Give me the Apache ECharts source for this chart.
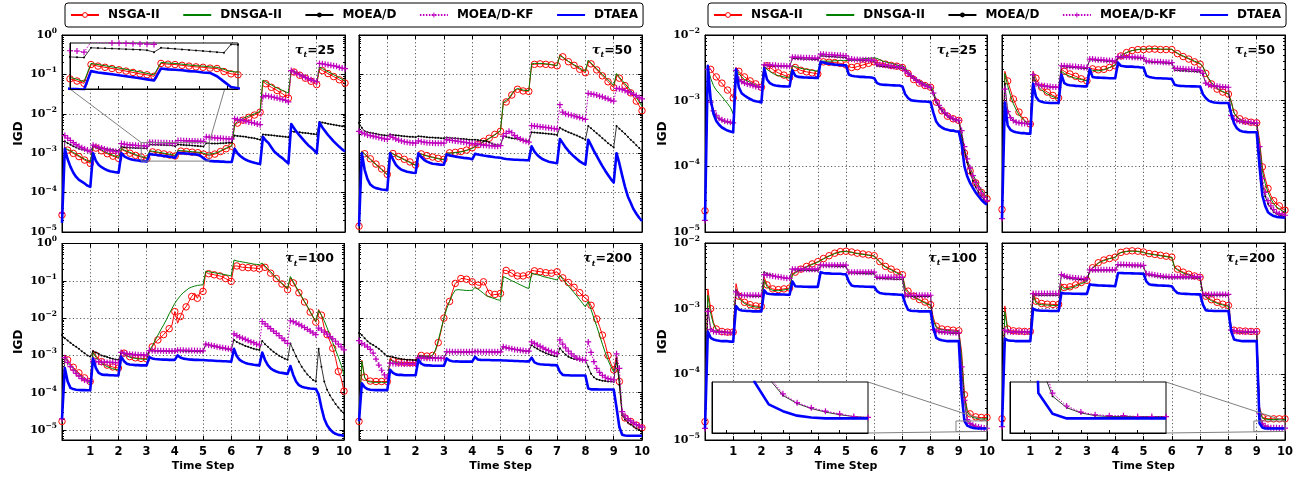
<!DOCTYPE html>
<html><head><meta charset="utf-8">
<script src="https://cdn.jsdelivr.net/npm/echarts@6/dist/echarts.min.js"></script>
<style>html,body{margin:0;padding:0;background:#fff}#c{width:1306px;height:485px}</style>
</head><body><div id="c"></div>
<script>
const timeSteps = [0,0.1,0.2,0.3,0.4,0.5,0.6,0.7,0.8,0.9,1,1.1,1.2,1.3,1.4,1.5,1.6,1.7,1.8,1.9,2,2.1,2.2,2.3,2.4,2.5,2.6,2.7,2.8,2.9,3,3.1,3.2,3.3,3.4,3.5,3.6,3.7,3.8,3.9,4,4.1,4.2,4.3,4.4,4.5,4.6,4.7,4.8,4.9,5,5.1,5.2,5.3,5.4,5.5,5.6,5.7,5.8,5.9,6,6.1,6.2,6.3,6.4,6.5,6.6,6.7,6.8,6.9,7,7.1,7.2,7.3,7.4,7.5,7.6,7.7,7.8,7.9,8,8.1,8.2,8.3,8.4,8.5,8.6,8.7,8.8,8.9,9,9.1,9.2,9.3,9.4,9.5,9.6,9.7,9.8,9.9,10];
const methods = ['NSGA-II','DNSGA-II','MOEA/D','MOEA/D-KF','DTAEA'];
const tauLabels = ['25','50','100','200'];
const xTickLabels = ['1','2','3','4','5','6','7','8','9','10'];
const minorMantissas = [2,3,4,5,6,7,8,9];

// ---------- Problem 1, tau=25 ----------
const nsgaA = [2.7e-5,
1.3e-3,1.2e-3,1.1e-3,9.9e-4,9.0e-4,8.2e-4,7.4e-4,6.7e-4,6.1e-4,5.5e-4,
1.5e-3,1.35e-3,1.25e-3,1.15e-3,1.05e-3,9.7e-4,9.0e-4,8.4e-4,7.9e-4,7.4e-4,
1.25e-3,1.15e-3,1.08e-3,1.0e-3,9.4e-4,8.8e-4,8.3e-4,8.0e-4,7.6e-4,7.2e-4,
1.12e-3,1.08e-3,1.05e-3,1.02e-3,9.9e-4,9.6e-4,9.3e-4,9.0e-4,8.8e-4,8.5e-4,
1.15e-3,1.13e-3,1.12e-3,1.1e-3,1.08e-3,1.06e-3,1.05e-3,1.03e-3,1.02e-3,9.5e-4,
9.0e-4,8.8e-4,9.0e-4,9.5e-4,1.0e-3,1.1e-3,1.2e-3,1.3e-3,1.4e-3,1.5e-3,
5.2e-3,5.8e-3,6.3e-3,6.9e-3,7.5e-3,8.1e-3,8.7e-3,9.3e-3,1.0e-2,1.1e-2,
6.6e-2,5.8e-2,5.2e-2,4.7e-2,4.3e-2,3.9e-2,3.5e-2,3.2e-2,2.8e-2,2.5e-2,
1.25e-1,1.15e-1,1.05e-1,9.5e-2,8.7e-2,8.0e-2,7.3e-2,6.7e-2,6.1e-2,5.5e-2,
1.4e-1,1.25e-1,1.15e-1,1.05e-1,9.6e-2,8.8e-2,8.0e-2,7.3e-2,6.6e-2,6.0e-2];
const dnsgaA = [2.5e-5,
1.35e-3,1.25e-3,1.15e-3,1.05e-3,9.5e-4,8.6e-4,7.8e-4,7.1e-4,6.5e-4,6.0e-4,
1.55e-3,1.4e-3,1.3e-3,1.2e-3,1.1e-3,1.02e-3,9.5e-4,8.9e-4,8.3e-4,7.8e-4,
1.3e-3,1.2e-3,1.12e-3,1.05e-3,9.8e-4,9.2e-4,8.7e-4,8.3e-4,7.9e-4,7.5e-4,
1.15e-3,1.12e-3,1.09e-3,1.06e-3,1.03e-3,1.0e-3,9.7e-4,9.4e-4,9.1e-4,8.8e-4,
1.18e-3,1.16e-3,1.15e-3,1.13e-3,1.11e-3,1.09e-3,1.08e-3,1.06e-3,1.05e-3,1.0e-3,
9.5e-4,9.4e-4,9.6e-4,1.0e-3,1.05e-3,1.15e-3,1.25e-3,1.35e-3,1.45e-3,1.55e-3,
5.5e-3,6.3e-3,7.0e-3,7.6e-3,8.2e-3,8.8e-3,9.4e-3,1.0e-2,1.07e-2,1.15e-2,
7.2e-2,6.5e-2,5.9e-2,5.4e-2,4.9e-2,4.5e-2,4.2e-2,3.9e-2,3.6e-2,3.4e-2,
1.3e-1,1.2e-1,1.1e-1,1.0e-1,9.3e-2,8.6e-2,8.0e-2,7.4e-2,6.9e-2,6.4e-2,
1.55e-1,1.4e-1,1.28e-1,1.17e-1,1.07e-1,9.8e-2,9.0e-2,8.2e-2,7.5e-2,6.8e-2];
const moeadA = [3.0e-5,
2.0e-3,1.8e-3,1.65e-3,1.5e-3,1.4e-3,1.3e-3,1.25e-3,1.2e-3,1.15e-3,1.1e-3,
1.5e-3,1.45e-3,1.4e-3,1.35e-3,1.3e-3,1.27e-3,1.24e-3,1.2e-3,1.17e-3,1.15e-3,
1.45e-3,1.42e-3,1.4e-3,1.38e-3,1.37e-3,1.36e-3,1.35e-3,1.34e-3,1.33e-3,1.32e-3,
1.66e-3,1.65e-3,1.64e-3,1.63e-3,1.62e-3,1.61e-3,1.6e-3,1.59e-3,1.57e-3,1.5e-3,
1.66e-3,1.64e-3,1.62e-3,1.6e-3,1.58e-3,1.56e-3,1.54e-3,1.52e-3,1.5e-3,1.48e-3,
1.8e-3,1.78e-3,1.76e-3,1.75e-3,1.76e-3,1.78e-3,1.8e-3,1.82e-3,1.85e-3,1.9e-3,
2.8e-3,2.75e-3,2.7e-3,2.65e-3,2.6e-3,2.5e-3,2.45e-3,2.4e-3,2.3e-3,2.2e-3,
3.0e-3,2.95e-3,2.9e-3,2.85e-3,2.8e-3,2.75e-3,2.7e-3,2.65e-3,2.6e-3,2.55e-3,
3.6e-3,3.5e-3,3.45e-3,3.4e-3,3.3e-3,3.25e-3,3.2e-3,3.1e-3,3.05e-3,3.0e-3,
6.2e-3,6.0e-3,5.8e-3,5.6e-3,5.4e-3,5.3e-3,5.1e-3,5.0e-3,4.8e-3,4.7e-3];
const kfA = [3.0e-5,
2.8e-3,2.4e-3,2.1e-3,1.85e-3,1.65e-3,1.5e-3,1.38e-3,1.28e-3,1.2e-3,1.1e-3,
1.6e-3,1.5e-3,1.42e-3,1.35e-3,1.28e-3,1.22e-3,1.17e-3,1.13e-3,1.1e-3,1.08e-3,
1.75e-3,1.7e-3,1.65e-3,1.62e-3,1.6e-3,1.58e-3,1.56e-3,1.55e-3,1.54e-3,1.5e-3,
1.9e-3,1.88e-3,1.87e-3,1.86e-3,1.85e-3,1.84e-3,1.83e-3,1.82e-3,1.81e-3,1.8e-3,
2.1e-3,2.1e-3,2.08e-3,2.06e-3,2.05e-3,2.04e-3,2.03e-3,2.02e-3,2.01e-3,2.0e-3,
2.6e-3,2.55e-3,2.5e-3,2.45e-3,2.4e-3,2.38e-3,2.35e-3,2.33e-3,2.3e-3,2.3e-3,
7.5e-3,7.2e-3,7.0e-3,6.7e-3,6.5e-3,6.2e-3,6.0e-3,5.8e-3,5.5e-3,5.3e-3,
2.7e-2,2.9e-2,2.8e-2,2.7e-2,2.6e-2,2.5e-2,2.4e-2,2.3e-2,2.2e-2,2.0e-2,
1.25e-1,1.15e-1,1.05e-1,9.8e-2,9.0e-2,8.4e-2,7.8e-2,7.3e-2,6.9e-2,6.5e-2,
1.9e-1,1.85e-1,1.8e-1,1.75e-1,1.7e-1,1.65e-1,1.6e-1,1.5e-1,1.45e-1,1.4e-1];
const dtaeaA = [1.7e-5,
1.3e-3,7.0e-4,4.5e-4,3.2e-4,2.5e-4,2.1e-4,1.9e-4,1.7e-4,1.5e-4,1.4e-4,
1.0e-3,6.3e-4,5.0e-4,4.4e-4,4.0e-4,3.7e-4,3.5e-4,3.4e-4,3.3e-4,3.2e-4,
1.0e-3,8.3e-4,7.6e-4,7.1e-4,6.8e-4,6.6e-4,6.5e-4,6.3e-4,6.3e-4,6.2e-4,
9.6e-4,9.3e-4,9.1e-4,8.9e-4,8.7e-4,8.5e-4,8.3e-4,8.1e-4,7.9e-4,7.7e-4,
1.02e-3,1.0e-3,9.9e-4,9.8e-4,9.6e-4,9.5e-4,9.3e-4,9.2e-4,8.5e-4,7.5e-4,
6.6e-4,6.4e-4,6.3e-4,6.2e-4,6.2e-4,6.1e-4,6.1e-4,6.0e-4,6.0e-4,6.0e-4,
1.3e-3,1.0e-3,8.5e-4,7.5e-4,6.8e-4,6.3e-4,6.0e-4,5.7e-4,5.5e-4,5.3e-4,
2.6e-3,2.1e-3,1.8e-3,1.4e-3,1.1e-3,9.5e-4,8.3e-4,7.4e-4,6.3e-4,5.5e-4,
5.5e-3,4.3e-3,3.4e-3,2.8e-3,2.3e-3,1.9e-3,1.6e-3,1.4e-3,1.2e-3,1.0e-3,
6.0e-3,4.5e-3,3.6e-3,2.9e-3,2.4e-3,2.0e-3,1.7e-3,1.45e-3,1.25e-3,1.1e-3];

// ---------- Problem 1, tau=50 ----------
const nsgaB = [1.4e-5,
1.12e-3,9.7e-4,8.3e-4,7.2e-4,6.2e-4,5.3e-4,4.6e-4,4.0e-4,3.4e-4,2.9e-4,
1.07e-3,9.8e-4,8.9e-4,8.2e-4,7.6e-4,7.0e-4,6.5e-4,6.0e-4,5.5e-4,5.0e-4,
1.02e-3,9.6e-4,9.1e-4,8.7e-4,8.3e-4,8.0e-4,7.7e-4,7.4e-4,7.2e-4,7.0e-4,
1.02e-3,1.02e-3,1.03e-3,1.05e-3,1.07e-3,1.1e-3,1.15e-3,1.2e-3,1.28e-3,1.37e-3,
1.5e-3,1.65e-3,1.8e-3,2.0e-3,2.2e-3,2.4e-3,2.7e-3,3.0e-3,3.4e-3,3.6e-3,
1.9e-2,2.0e-2,2.3e-2,3.0e-2,3.8e-2,4.2e-2,4.0e-2,3.8e-2,3.8e-2,3.7e-2,
1.75e-1,1.8e-1,1.85e-1,1.85e-1,1.85e-1,1.8e-1,1.8e-1,1.75e-1,1.7e-1,1.65e-1,
3.2e-1,2.8e-1,2.4e-1,2.1e-1,1.9e-1,1.7e-1,1.5e-1,1.35e-1,1.2e-1,1.1e-1,
2.2e-1,1.85e-1,1.55e-1,1.3e-1,1.1e-1,9.2e-2,7.8e-2,6.5e-2,5.5e-2,4.6e-2,
1.0e-1,8.0e-2,6.4e-2,5.2e-2,4.2e-2,3.4e-2,2.7e-2,2.1e-2,1.6e-2,1.2e-2];
const dnsgaB = [1.4e-5,
1.1e-3,9.4e-4,8.0e-4,6.9e-4,5.9e-4,5.1e-4,4.4e-4,3.8e-4,3.3e-4,2.8e-4,
1.05e-3,9.5e-4,8.7e-4,8.0e-4,7.4e-4,6.8e-4,6.3e-4,5.8e-4,5.3e-4,4.9e-4,
1.0e-3,9.4e-4,8.9e-4,8.5e-4,8.1e-4,7.8e-4,7.5e-4,7.2e-4,7.0e-4,6.8e-4,
1.0e-3,1.0e-3,1.01e-3,1.03e-3,1.05e-3,1.08e-3,1.12e-3,1.17e-3,1.24e-3,1.32e-3,
1.45e-3,1.6e-3,1.75e-3,1.95e-3,2.15e-3,2.35e-3,2.6e-3,2.9e-3,3.3e-3,3.8e-3,
2.0e-2,2.2e-2,2.5e-2,3.2e-2,4.0e-2,4.4e-2,4.2e-2,4.0e-2,3.9e-2,3.9e-2,
1.85e-1,1.9e-1,1.9e-1,1.9e-1,1.88e-1,1.85e-1,1.82e-1,1.78e-1,1.72e-1,1.68e-1,
3.0e-1,2.7e-1,2.4e-1,2.15e-1,1.95e-1,1.75e-1,1.6e-1,1.45e-1,1.3e-1,1.2e-1,
2.3e-1,1.95e-1,1.65e-1,1.4e-1,1.2e-1,1.0e-1,8.6e-2,7.3e-2,6.2e-2,5.3e-2,
1.05e-1,8.5e-2,7.0e-2,5.8e-2,4.8e-2,3.9e-2,3.2e-2,2.6e-2,2.0e-2,1.55e-2];
const moeadB = [5.9e-3,
4.4e-3,3.6e-3,3.4e-3,3.3e-3,3.2e-3,3.1e-3,3.0e-3,2.9e-3,2.85e-3,2.8e-3,
3.0e-3,2.9e-3,2.85e-3,2.8e-3,2.75e-3,2.7e-3,2.65e-3,2.6e-3,2.6e-3,2.55e-3,
2.7e-3,2.65e-3,2.6e-3,2.55e-3,2.5e-3,2.5e-3,2.45e-3,2.45e-3,2.4e-3,2.4e-3,
2.5e-3,2.45e-3,2.4e-3,2.4e-3,2.35e-3,2.3e-3,2.3e-3,2.25e-3,2.2e-3,2.2e-3,
2.2e-3,2.15e-3,2.1e-3,2.05e-3,2.0e-3,1.9e-3,1.75e-3,1.65e-3,1.6e-3,1.6e-3,
2.7e-3,2.6e-3,2.5e-3,2.4e-3,2.35e-3,2.3e-3,2.2e-3,2.15e-3,2.1e-3,2.0e-3,
3.4e-3,3.35e-3,3.3e-3,3.25e-3,3.2e-3,3.15e-3,3.1e-3,3.05e-3,3.0e-3,2.9e-3,
4.4e-3,4.0e-3,3.7e-3,3.4e-3,3.2e-3,3.0e-3,2.8e-3,2.6e-3,2.4e-3,2.2e-3,
4.9e-3,4.3e-3,3.7e-3,3.2e-3,2.8e-3,2.4e-3,2.1e-3,1.8e-3,1.6e-3,1.4e-3,
4.9e-3,4.2e-3,3.6e-3,3.1e-3,2.6e-3,2.2e-3,1.9e-3,1.6e-3,1.35e-3,1.15e-3];
const kfB = [3.6e-3,
3.3e-3,3.1e-3,2.9e-3,2.8e-3,2.7e-3,2.6e-3,2.5e-3,2.4e-3,2.3e-3,2.25e-3,
2.7e-3,2.5e-3,2.3e-3,2.15e-3,2.05e-3,1.95e-3,1.9e-3,1.85e-3,1.82e-3,1.8e-3,
2.05e-3,1.95e-3,1.9e-3,1.85e-3,1.85e-3,1.82e-3,1.8e-3,1.8e-3,1.8e-3,1.8e-3,
2.2e-3,2.15e-3,2.1e-3,2.05e-3,2.0e-3,1.95e-3,1.9e-3,1.85e-3,1.8e-3,1.75e-3,
1.75e-3,1.7e-3,1.65e-3,1.6e-3,1.6e-3,1.55e-3,1.55e-3,1.5e-3,1.5e-3,1.55e-3,
2.7e-3,3.2e-3,3.6e-3,3.3e-3,2.8e-3,2.5e-3,2.3e-3,2.1e-3,2.0e-3,1.9e-3,
5.0e-3,4.9e-3,4.8e-3,4.7e-3,4.6e-3,4.5e-3,4.4e-3,4.3e-3,4.2e-3,4.1e-3,
1.7e-2,1.1e-2,1.0e-2,9.6e-3,9.2e-3,8.8e-3,8.4e-3,8.0e-3,7.6e-3,7.2e-3,
3.3e-2,3.2e-2,3.1e-2,3.0e-2,2.8e-2,2.7e-2,2.5e-2,2.4e-2,2.2e-2,2.1e-2,
4.4e-2,4.3e-2,4.1e-2,3.9e-2,3.6e-2,3.4e-2,3.1e-2,2.9e-2,2.6e-2,2.4e-2];
const dtaeaB = [1.4e-5,
1.0e-3,3.8e-4,2.2e-4,1.6e-4,1.4e-4,1.3e-4,1.25e-4,1.2e-4,1.18e-4,1.15e-4,
1.0e-3,7.0e-4,5.1e-4,4.3e-4,3.8e-4,3.6e-4,3.4e-4,3.3e-4,3.2e-4,3.15e-4,
1.0e-3,8.0e-4,6.8e-4,6.1e-4,5.7e-4,5.4e-4,5.3e-4,5.2e-4,5.1e-4,5.1e-4,
9.3e-4,8.8e-4,8.5e-4,8.2e-4,8.0e-4,7.8e-4,7.6e-4,7.5e-4,7.3e-4,7.0e-4,
9.6e-4,9.3e-4,9.0e-4,8.7e-4,8.5e-4,8.3e-4,8.1e-4,7.9e-4,7.8e-4,7.7e-4,
7.3e-4,7.1e-4,7.0e-4,6.9e-4,6.8e-4,6.8e-4,6.7e-4,6.7e-4,6.6e-4,6.6e-4,
1.5e-3,1.1e-3,9.0e-4,7.8e-4,7.0e-4,6.5e-4,6.1e-4,5.9e-4,5.7e-4,5.6e-4,
2.3e-3,1.8e-3,1.4e-3,1.15e-3,9.6e-4,8.2e-4,7.1e-4,6.2e-4,5.6e-4,5.1e-4,
2.2e-3,1.6e-3,1.15e-3,8.5e-4,6.3e-4,4.7e-4,3.6e-4,2.8e-4,2.2e-4,1.8e-4,
1.0e-3,5.5e-4,2.7e-4,1.4e-4,8.0e-5,5.5e-5,3.8e-5,2.9e-5,2.3e-5,1.9e-5];

// ---------- Problem 1, tau=100 ----------
const nsgaC = [1.7e-5,
1.0e-3,7.6e-4,6.0e-4,4.8e-4,4.0e-4,3.4e-4,2.9e-4,2.5e-4,2.2e-4,2.0e-4,
1.4e-3,1.0e-3,8.0e-4,6.8e-4,6.0e-4,5.5e-4,5.1e-4,4.9e-4,4.7e-4,4.6e-4,
1.4e-3,1.15e-3,1.0e-3,9.3e-4,8.9e-4,8.6e-4,8.4e-4,8.3e-4,8.2e-4,8.1e-4,
1.3e-3,1.7e-3,2.2e-3,2.6e-3,3.0e-3,3.6e-3,4.3e-3,5.2e-3,6.5e-3,1.5e-2,
7.3e-3,1.1e-2,1.7e-2,2.0e-2,2.8e-2,3.8e-2,4.7e-2,3.4e-2,5.0e-2,5.2e-2,
1.7e-1,1.55e-1,1.5e-1,1.45e-1,1.4e-1,1.35e-1,1.25e-1,1.15e-1,1.05e-1,9.6e-2,
2.5e-1,2.5e-1,2.4e-1,2.3e-1,2.3e-1,2.25e-1,2.2e-1,2.2e-1,2.15e-1,2.1e-1,
2.8e-1,2.3e-1,1.9e-1,1.6e-1,1.35e-1,1.15e-1,9.7e-2,8.2e-2,6.9e-2,5.8e-2,
1.2e-1,8.8e-2,6.5e-2,4.8e-2,3.6e-2,2.7e-2,2.0e-2,1.45e-2,1.05e-2,7.8e-3,
1.7e-2,1.2e-2,5.4e-3,3.6e-3,2.4e-3,1.55e-3,8.4e-4,3.7e-4,2.4e-4,1.1e-4];
const dnsgaC = [1.7e-5,
9.0e-4,6.8e-4,5.4e-4,4.4e-4,3.7e-4,3.1e-4,2.7e-4,2.3e-4,2.0e-4,1.8e-4,
1.2e-3,9.0e-4,7.3e-4,6.2e-4,5.5e-4,5.0e-4,4.7e-4,4.4e-4,4.2e-4,4.1e-4,
1.3e-3,1.08e-3,9.6e-4,9.0e-4,8.6e-4,8.3e-4,8.1e-4,8.0e-4,7.9e-4,7.8e-4,
1.3e-3,1.8e-3,2.5e-3,3.5e-3,4.8e-3,6.5e-3,9.0e-3,1.3e-2,1.8e-2,2.5e-2,
3.2e-2,4.0e-2,4.8e-2,5.5e-2,6.3e-2,6.8e-2,7.2e-2,7.5e-2,7.7e-2,7.8e-2,
1.8e-1,1.75e-1,1.7e-1,1.65e-1,1.6e-1,1.55e-1,1.5e-1,1.45e-1,1.4e-1,1.35e-1,
3.6e-1,3.4e-1,3.3e-1,3.2e-1,3.1e-1,3.0e-1,2.9e-1,2.8e-1,2.75e-1,2.7e-1,
3.0e-1,2.5e-1,2.1e-1,1.75e-1,1.45e-1,1.2e-1,1.0e-1,8.6e-2,7.3e-2,6.3e-2,
1.3e-1,9.5e-2,7.0e-2,5.1e-2,3.8e-2,2.8e-2,2.1e-2,1.5e-2,1.1e-2,8.1e-3,
1.6e-2,1.2e-2,8.5e-3,5.5e-3,3.5e-3,2.2e-3,1.4e-3,9.0e-4,5.5e-4,3.0e-4];
const moeadC = [3.5e-3,
2.9e-3,2.5e-3,2.2e-3,1.9e-3,1.7e-3,1.5e-3,1.3e-3,1.15e-3,1.0e-3,9.3e-4,
1.3e-3,1.2e-3,1.1e-3,1.0e-3,9.5e-4,9.0e-4,8.5e-4,8.1e-4,7.8e-4,7.6e-4,
1.15e-3,1.12e-3,1.1e-3,1.08e-3,1.06e-3,1.05e-3,1.04e-3,1.03e-3,1.02e-3,1.0e-3,
1.35e-3,1.33e-3,1.32e-3,1.31e-3,1.3e-3,1.3e-3,1.29e-3,1.28e-3,1.28e-3,1.27e-3,
1.35e-3,1.33e-3,1.32e-3,1.31e-3,1.3e-3,1.3e-3,1.29e-3,1.28e-3,1.28e-3,1.27e-3,
2.0e-3,1.9e-3,1.8e-3,1.75e-3,1.7e-3,1.6e-3,1.55e-3,1.5e-3,1.45e-3,1.4e-3,
2.6e-3,2.3e-3,2.1e-3,1.95e-3,1.8e-3,1.7e-3,1.6e-3,1.5e-3,1.45e-3,1.4e-3,
2.45e-3,2.0e-3,1.7e-3,1.45e-3,1.25e-3,1.1e-3,9.8e-4,8.9e-4,8.2e-4,7.6e-4,
2.1e-3,1.4e-3,9.5e-4,6.8e-4,5.0e-4,3.9e-4,3.1e-4,2.6e-4,2.2e-4,2.0e-4,
1.5e-3,5.0e-4,2.0e-4,1.2e-4,8.5e-5,6.5e-5,5.0e-5,4.0e-5,3.3e-5,2.8e-5];
const kfC = [2.0e-5,
8.7e-4,6.5e-4,5.0e-4,4.0e-4,3.3e-4,2.8e-4,2.4e-4,2.2e-4,2.1e-4,2.0e-4,
6.9e-4,6.8e-4,6.7e-4,6.6e-4,6.6e-4,6.5e-4,6.5e-4,6.5e-4,6.4e-4,6.4e-4,
1.2e-3,1.15e-3,1.1e-3,1.08e-3,1.06e-3,1.05e-3,1.04e-3,1.03e-3,1.02e-3,1.0e-3,
1.35e-3,1.35e-3,1.34e-3,1.34e-3,1.33e-3,1.33e-3,1.32e-3,1.32e-3,1.31e-3,1.31e-3,
1.38e-3,1.37e-3,1.37e-3,1.36e-3,1.36e-3,1.35e-3,1.35e-3,1.34e-3,1.34e-3,1.33e-3,
2.0e-3,1.9e-3,1.85e-3,1.8e-3,1.7e-3,1.65e-3,1.6e-3,1.55e-3,1.5e-3,1.45e-3,
3.8e-3,3.4e-3,3.1e-3,2.9e-3,2.7e-3,2.5e-3,2.3e-3,2.2e-3,2.0e-3,1.9e-3,
8.1e-3,7.0e-3,6.0e-3,5.2e-3,4.5e-3,3.9e-3,3.4e-3,2.9e-3,2.5e-3,2.1e-3,
8.5e-3,8.0e-3,7.4e-3,6.8e-3,6.2e-3,5.6e-3,5.0e-3,4.5e-3,4.0e-3,3.6e-3,
5.4e-3,4.8e-3,4.2e-3,3.7e-3,3.2e-3,2.8e-3,2.4e-3,2.0e-3,1.7e-3,1.4e-3];
const dtaeaC = [2.0e-5,
4.6e-4,2.0e-4,1.35e-4,1.25e-4,1.2e-4,1.18e-4,1.17e-4,1.17e-4,1.16e-4,1.16e-4,
8.3e-4,4.6e-4,3.4e-4,3.1e-4,3.0e-4,3.0e-4,2.95e-4,2.95e-4,2.9e-4,2.9e-4,
9.3e-4,7.0e-4,6.0e-4,5.7e-4,5.6e-4,5.5e-4,5.5e-4,5.4e-4,5.4e-4,5.4e-4,
9.0e-4,8.3e-4,8.0e-4,7.9e-4,7.8e-4,7.7e-4,7.7e-4,7.6e-4,7.6e-4,7.6e-4,
1.0e-3,8.8e-4,8.2e-4,8.0e-4,7.8e-4,7.7e-4,7.6e-4,7.6e-4,7.5e-4,7.5e-4,
7.4e-4,7.3e-4,7.3e-4,7.2e-4,7.1e-4,7.1e-4,7.0e-4,7.0e-4,6.9e-4,6.8e-4,
1.5e-3,9.5e-4,7.6e-4,6.8e-4,6.3e-4,6.0e-4,5.8e-4,5.6e-4,5.5e-4,5.4e-4,
1.2e-3,7.5e-4,5.5e-4,4.5e-4,4.0e-4,3.7e-4,3.5e-4,3.4e-4,3.3e-4,3.2e-4,
5.2e-4,3.0e-4,2.0e-4,1.6e-4,1.45e-4,1.38e-4,1.33e-4,1.3e-4,1.28e-4,1.26e-4,
9.0e-5,4.0e-5,2.0e-5,1.35e-5,1.05e-5,8.8e-6,7.9e-6,7.4e-6,7.2e-6,7.0e-6];

// ---------- Problem 1, tau=200 ----------
const nsgaD = [1.7e-5,
7.4e-4,2.6e-4,2.1e-4,2.05e-4,2.0e-4,2.0e-4,2.0e-4,2.0e-4,2.0e-4,2.0e-4,
8.3e-4,7.2e-4,6.8e-4,6.6e-4,6.5e-4,6.5e-4,6.5e-4,6.4e-4,6.4e-4,6.4e-4,
1.02e-3,1.0e-3,9.8e-4,9.6e-4,9.6e-4,1.0e-3,1.3e-3,2.2e-3,4.5e-3,1.0e-2,
2.2e-2,2.8e-2,5.1e-2,8.5e-2,9.4e-2,1.15e-1,1.15e-1,1.1e-1,1.05e-1,9.4e-2,
8.5e-2,7.6e-2,7.6e-2,9.4e-2,6.9e-2,4.6e-2,4.1e-2,4.3e-2,4.3e-2,4.6e-2,
1.9e-1,1.9e-1,1.75e-1,1.6e-1,1.4e-1,1.35e-1,1.3e-1,1.35e-1,1.4e-1,1.45e-1,
1.9e-1,1.85e-1,1.8e-1,1.75e-1,1.7e-1,1.65e-1,1.6e-1,1.6e-1,1.65e-1,1.75e-1,
1.4e-1,1.2e-1,1.05e-1,9.0e-2,7.8e-2,6.7e-2,5.7e-2,4.8e-2,4.0e-2,3.4e-2,
3.0e-2,2.2e-2,1.5e-2,9.5e-3,6.0e-3,3.5e-3,2.0e-3,1.0e-3,6.0e-4,4.1e-4,
1.0e-3,2.0e-4,2.5e-5,2.1e-5,1.9e-5,1.7e-5,1.5e-5,1.35e-5,1.25e-5,1.15e-5];
const dnsgaD = [1.7e-5,
7.0e-4,2.5e-4,2.0e-4,1.95e-4,1.9e-4,1.9e-4,1.9e-4,1.9e-4,1.9e-4,1.9e-4,
7.8e-4,6.8e-4,6.4e-4,6.2e-4,6.1e-4,6.1e-4,6.0e-4,6.0e-4,6.0e-4,6.0e-4,
1.0e-3,9.8e-4,9.6e-4,9.5e-4,9.5e-4,1.0e-3,1.4e-3,2.5e-3,5.0e-3,1.0e-2,
1.8e-2,2.8e-2,4.2e-2,5.6e-2,5.8e-2,5.7e-2,5.6e-2,5.5e-2,5.5e-2,5.6e-2,
6.6e-2,6.0e-2,5.3e-2,4.6e-2,4.0e-2,3.7e-2,3.5e-2,3.3e-2,3.1e-2,3.0e-2,
1.3e-1,1.2e-1,1.1e-1,1.0e-1,9.3e-2,8.5e-2,7.8e-2,7.2e-2,6.6e-2,6.2e-2,
1.6e-1,1.5e-1,1.45e-1,1.4e-1,1.3e-1,1.25e-1,1.2e-1,1.15e-1,1.1e-1,1.05e-1,
1.4e-1,1.1e-1,9.0e-2,7.3e-2,5.9e-2,4.8e-2,3.9e-2,3.1e-2,2.5e-2,2.0e-2,
2.8e-2,1.7e-2,1.0e-2,6.0e-3,3.5e-3,2.0e-3,1.2e-3,7.5e-4,5.0e-4,3.6e-4,
6.8e-4,2.5e-4,2.8e-5,2.2e-5,1.9e-5,1.7e-5,1.5e-5,1.35e-5,1.25e-5,1.1e-5];
const moeadD = [4.0e-3,
3.5e-3,2.9e-3,2.4e-3,2.1e-3,1.9e-3,1.7e-3,1.5e-3,1.3e-3,1.1e-3,9.5e-4,
9.3e-4,9.0e-4,8.6e-4,8.3e-4,8.0e-4,7.8e-4,7.7e-4,7.6e-4,7.5e-4,7.4e-4,
9.3e-4,9.1e-4,9.0e-4,8.9e-4,8.8e-4,8.7e-4,8.6e-4,8.5e-4,8.4e-4,8.3e-4,
1.26e-3,1.25e-3,1.25e-3,1.24e-3,1.24e-3,1.23e-3,1.23e-3,1.22e-3,1.22e-3,1.21e-3,
1.3e-3,1.28e-3,1.27e-3,1.26e-3,1.26e-3,1.25e-3,1.25e-3,1.24e-3,1.24e-3,1.23e-3,
1.7e-3,1.6e-3,1.55e-3,1.5e-3,1.45e-3,1.4e-3,1.35e-3,1.32e-3,1.3e-3,1.28e-3,
1.9e-3,1.65e-3,1.5e-3,1.35e-3,1.25e-3,1.15e-3,1.08e-3,1.02e-3,9.7e-4,9.3e-4,
1.55e-3,1.25e-3,1.05e-3,9.2e-4,8.5e-4,8.0e-4,7.8e-4,7.6e-4,7.5e-4,7.4e-4,
5.0e-4,3.2e-4,2.6e-4,2.3e-4,2.2e-4,2.1e-4,2.05e-4,2.0e-4,2.0e-4,1.95e-4,
8.3e-4,1.6e-4,2.5e-5,1.9e-5,1.6e-5,1.4e-5,1.25e-5,1.1e-5,1.0e-5,9.1e-6];
const kfD = [2.5e-3,
2.1e-3,1.9e-3,1.7e-3,1.45e-3,1.15e-3,8.0e-4,5.5e-4,4.0e-4,3.0e-4,2.5e-4,
6.2e-4,6.1e-4,6.0e-4,6.0e-4,6.0e-4,5.9e-4,5.9e-4,5.9e-4,5.9e-4,5.9e-4,
8.7e-4,8.6e-4,8.5e-4,8.4e-4,8.4e-4,8.4e-4,8.3e-4,8.3e-4,8.3e-4,8.3e-4,
1.27e-3,1.27e-3,1.26e-3,1.26e-3,1.26e-3,1.26e-3,1.25e-3,1.25e-3,1.25e-3,1.25e-3,
1.27e-3,1.27e-3,1.26e-3,1.26e-3,1.26e-3,1.26e-3,1.25e-3,1.25e-3,1.25e-3,1.25e-3,
1.7e-3,1.62e-3,1.55e-3,1.5e-3,1.45e-3,1.42e-3,1.38e-3,1.35e-3,1.32e-3,1.3e-3,
2.3e-3,2.1e-3,1.9e-3,1.75e-3,1.6e-3,1.45e-3,1.35e-3,1.25e-3,1.18e-3,1.12e-3,
2.6e-3,2.0e-3,1.6e-3,1.3e-3,1.1e-3,9.5e-4,8.5e-4,8.0e-4,7.6e-4,7.4e-4,
2.3e-3,1.2e-3,6.8e-4,4.5e-4,3.5e-4,2.9e-4,2.6e-4,2.4e-4,2.3e-4,2.2e-4,
1.1e-3,4.5e-4,3.1e-5,2.4e-5,2.0e-5,1.75e-5,1.55e-5,1.4e-5,1.3e-5,1.2e-5];
const dtaeaD = [1.7e-5,
1.8e-4,1.4e-4,1.25e-4,1.2e-4,1.18e-4,1.17e-4,1.17e-4,1.17e-4,1.17e-4,1.17e-4,
4.1e-4,3.4e-4,3.1e-4,3.0e-4,3.0e-4,2.95e-4,2.95e-4,2.95e-4,2.95e-4,2.95e-4,
7.6e-4,6.0e-4,5.5e-4,5.4e-4,5.4e-4,5.3e-4,5.3e-4,5.3e-4,5.3e-4,5.3e-4,
8.3e-4,7.3e-4,7.0e-4,6.9e-4,6.9e-4,6.8e-4,6.8e-4,6.8e-4,6.8e-4,6.8e-4,
9.1e-4,7.8e-4,7.6e-4,7.5e-4,7.5e-4,7.5e-4,7.4e-4,7.4e-4,7.4e-4,7.4e-4,
7.3e-4,7.3e-4,7.2e-4,7.2e-4,7.1e-4,7.1e-4,7.0e-4,7.0e-4,6.9e-4,6.9e-4,
8.7e-4,6.5e-4,6.0e-4,5.8e-4,5.7e-4,5.6e-4,5.6e-4,5.5e-4,5.5e-4,5.4e-4,
3.6e-4,3.0e-4,2.95e-4,2.95e-4,2.9e-4,2.9e-4,2.9e-4,2.9e-4,2.9e-4,2.9e-4,
1.3e-4,1.23e-4,1.23e-4,1.23e-4,1.22e-4,1.22e-4,1.22e-4,1.22e-4,1.22e-4,1.22e-4,
4.0e-5,1.2e-5,7.5e-6,7.1e-6,7.0e-6,7.0e-6,7.0e-6,7.0e-6,7.0e-6,7.0e-6];

// ---------- Problem 2, tau=25 ----------
const nsgaE = [2.1e-5,
3.4e-3,3.0e-3,2.6e-3,2.3e-3,2.0e-3,1.85e-3,1.6e-3,1.45e-3,1.3e-3,1.1e-3,
3.2e-3,2.8e-3,2.5e-3,2.3e-3,2.15e-3,2.0e-3,1.9e-3,1.8e-3,1.7e-3,1.6e-3,
3.6e-3,3.4e-3,3.2e-3,3.0e-3,2.8e-3,2.65e-3,2.55e-3,2.45e-3,2.35e-3,2.25e-3,
3.4e-3,3.2e-3,3.0e-3,2.9e-3,2.8e-3,2.75e-3,2.7e-3,2.65e-3,2.6e-3,2.55e-3,
3.9e-3,3.9e-3,3.85e-3,3.85e-3,3.8e-3,3.8e-3,3.75e-3,3.7e-3,3.6e-3,3.5e-3,
3.3e-3,3.2e-3,3.2e-3,3.3e-3,3.4e-3,3.5e-3,3.6e-3,3.7e-3,3.8e-3,3.9e-3,
3.8e-3,3.75e-3,3.7e-3,3.6e-3,3.5e-3,3.45e-3,3.4e-3,3.35e-3,3.3e-3,3.2e-3,
3.0e-3,2.6e-3,2.3e-3,2.1e-3,1.95e-3,1.85e-3,1.75e-3,1.7e-3,1.65e-3,1.6e-3,
1.3e-3,9.5e-4,8.0e-4,7.0e-4,6.3e-4,5.8e-4,5.5e-4,5.3e-4,5.1e-4,5.0e-4,
2.8e-4,1.6e-4,1.1e-4,8.5e-5,6.8e-5,5.6e-5,4.7e-5,4.0e-5,3.5e-5,3.2e-5];
const dnsgaE = [2.1e-5,
3.2e-3,2.2e-3,1.7e-3,1.45e-3,1.3e-3,1.15e-3,1.02e-3,9.0e-4,7.9e-4,6.3e-4,
3.1e-3,2.6e-3,2.3e-3,2.1e-3,2.0e-3,1.9e-3,1.8e-3,1.7e-3,1.65e-3,1.6e-3,
3.4e-3,3.0e-3,2.8e-3,2.6e-3,2.5e-3,2.4e-3,2.35e-3,2.3e-3,2.25e-3,2.2e-3,
3.4e-3,3.3e-3,3.2e-3,3.1e-3,3.05e-3,3.0e-3,2.95e-3,2.9e-3,2.85e-3,2.8e-3,
4.0e-3,4.0e-3,4.0e-3,4.0e-3,4.0e-3,4.05e-3,4.05e-3,4.1e-3,4.1e-3,4.1e-3,
4.1e-3,4.15e-3,4.2e-3,4.25e-3,4.3e-3,4.35e-3,4.4e-3,4.4e-3,4.45e-3,4.5e-3,
4.4e-3,4.2e-3,4.0e-3,3.9e-3,3.8e-3,3.7e-3,3.6e-3,3.5e-3,3.4e-3,3.4e-3,
3.2e-3,2.8e-3,2.5e-3,2.3e-3,2.1e-3,2.0e-3,1.9e-3,1.8e-3,1.75e-3,1.7e-3,
1.4e-3,1.0e-3,8.5e-4,7.4e-4,6.7e-4,6.1e-4,5.7e-4,5.4e-4,5.2e-4,5.1e-4,
3.0e-4,1.8e-4,1.25e-4,9.5e-5,7.5e-5,6.2e-5,5.2e-5,4.4e-5,3.8e-5,3.3e-5];
const moeadE = [1.5e-5,
3.2e-3,9.3e-4,6.9e-4,5.9e-4,5.3e-4,5.0e-4,4.8e-4,4.7e-4,4.6e-4,4.5e-4,
2.9e-3,2.1e-3,1.95e-3,1.85e-3,1.8e-3,1.75e-3,1.7e-3,1.65e-3,1.62e-3,1.6e-3,
3.45e-3,3.45e-3,3.4e-3,3.4e-3,3.4e-3,3.35e-3,3.35e-3,3.35e-3,3.3e-3,3.3e-3,
4.4e-3,4.4e-3,4.35e-3,4.35e-3,4.3e-3,4.3e-3,4.3e-3,4.25e-3,4.25e-3,4.2e-3,
4.8e-3,4.8e-3,4.75e-3,4.7e-3,4.7e-3,4.65e-3,4.6e-3,4.6e-3,4.55e-3,4.5e-3,
4.2e-3,4.2e-3,4.15e-3,4.15e-3,4.1e-3,4.1e-3,4.1e-3,4.05e-3,4.05e-3,4.0e-3,
3.4e-3,3.35e-3,3.3e-3,3.3e-3,3.25e-3,3.25e-3,3.2e-3,3.2e-3,3.15e-3,3.1e-3,
2.9e-3,2.6e-3,2.4e-3,2.2e-3,2.05e-3,1.9e-3,1.8e-3,1.7e-3,1.62e-3,1.55e-3,
1.25e-3,9.5e-4,8.0e-4,7.0e-4,6.3e-4,5.8e-4,5.4e-4,5.2e-4,5.0e-4,4.9e-4,
3.3e-4,1.8e-4,1.15e-4,8.0e-5,6.0e-5,4.8e-5,4.0e-5,3.5e-5,3.1e-5,2.8e-5];
const kfE = [1.5e-5,
3.0e-3,9.5e-4,7.0e-4,6.0e-4,5.4e-4,5.1e-4,4.9e-4,4.8e-4,4.7e-4,4.6e-4,
2.9e-3,2.1e-3,1.95e-3,1.85e-3,1.8e-3,1.75e-3,1.7e-3,1.65e-3,1.62e-3,1.6e-3,
3.5e-3,3.5e-3,3.5e-3,3.45e-3,3.45e-3,3.4e-3,3.4e-3,3.4e-3,3.35e-3,3.35e-3,
4.6e-3,4.6e-3,4.55e-3,4.55e-3,4.5e-3,4.5e-3,4.5e-3,4.45e-3,4.45e-3,4.4e-3,
5.1e-3,5.1e-3,5.05e-3,5.0e-3,5.0e-3,4.95e-3,4.9e-3,4.9e-3,4.85e-3,4.8e-3,
4.3e-3,4.3e-3,4.25e-3,4.25e-3,4.2e-3,4.2e-3,4.2e-3,4.15e-3,4.15e-3,4.1e-3,
3.6e-3,3.55e-3,3.5e-3,3.45e-3,3.4e-3,3.35e-3,3.3e-3,3.3e-3,3.25e-3,3.2e-3,
2.85e-3,2.6e-3,2.4e-3,2.2e-3,2.05e-3,1.9e-3,1.8e-3,1.7e-3,1.65e-3,1.6e-3,
1.3e-3,1.0e-3,8.5e-4,7.3e-4,6.5e-4,6.0e-4,5.6e-4,5.3e-4,5.1e-4,5.0e-4,
3.5e-4,2.0e-4,1.3e-4,9.5e-5,7.2e-5,5.7e-5,4.7e-5,3.9e-5,3.4e-5,3.0e-5];
const dtaeaE = [1.5e-5,
3.4e-3,1.05e-3,6.3e-4,4.9e-4,4.3e-4,3.9e-4,3.7e-4,3.5e-4,3.4e-4,3.3e-4,
3.0e-3,1.6e-3,1.3e-3,1.2e-3,1.12e-3,1.06e-3,1.01e-3,9.8e-4,9.6e-4,9.4e-4,
3.1e-3,2.1e-3,1.85e-3,1.75e-3,1.7e-3,1.68e-3,1.66e-3,1.65e-3,1.64e-3,1.64e-3,
2.9e-3,2.4e-3,2.3e-3,2.28e-3,2.26e-3,2.25e-3,2.24e-3,2.23e-3,2.22e-3,2.22e-3,
3.9e-3,3.8e-3,3.7e-3,3.65e-3,3.6e-3,3.55e-3,3.5e-3,3.5e-3,3.45e-3,3.45e-3,
2.5e-3,2.4e-3,2.35e-3,2.33e-3,2.3e-3,2.3e-3,2.28e-3,2.27e-3,2.25e-3,2.2e-3,
1.85e-3,1.78e-3,1.75e-3,1.74e-3,1.73e-3,1.72e-3,1.71e-3,1.7e-3,1.7e-3,1.65e-3,
1.25e-3,1.1e-3,1.02e-3,1.0e-3,9.9e-4,9.8e-4,9.7e-4,9.7e-4,9.6e-4,9.5e-4,
6.5e-4,4.8e-4,4.2e-4,3.9e-4,3.7e-4,3.6e-4,3.5e-4,3.5e-4,3.4e-4,3.4e-4,
2.2e-4,1.0e-4,7.0e-5,5.6e-5,4.7e-5,4.0e-5,3.5e-5,3.1e-5,2.8e-5,2.6e-5];

// ---------- Problem 2, tau=50 ----------
const nsgaF = [2.2e-5,
2.8e-3,2.0e-3,1.45e-3,1.06e-3,8.4e-4,6.7e-4,5.7e-4,5.0e-4,4.6e-4,4.4e-4,
2.8e-3,2.2e-3,1.8e-3,1.6e-3,1.45e-3,1.35e-3,1.28e-3,1.2e-3,1.15e-3,1.1e-3,
3.0e-3,2.8e-3,2.65e-3,2.55e-3,2.45e-3,2.35e-3,2.25e-3,2.15e-3,2.1e-3,2.0e-3,
3.15e-3,3.05e-3,3.0e-3,2.95e-3,2.95e-3,3.0e-3,3.1e-3,3.2e-3,3.3e-3,3.4e-3,
4.5e-3,4.8e-3,5.1e-3,5.4e-3,5.6e-3,5.8e-3,5.9e-3,6.0e-3,6.0e-3,6.0e-3,
6.0e-3,6.1e-3,6.1e-3,6.1e-3,6.0e-3,6.0e-3,6.0e-3,6.0e-3,6.0e-3,6.0e-3,
5.5e-3,5.2e-3,4.9e-3,4.7e-3,4.5e-3,4.3e-3,4.1e-3,3.9e-3,3.75e-3,3.6e-3,
3.3e-3,2.6e-3,2.1e-3,1.8e-3,1.6e-3,1.5e-3,1.42e-3,1.35e-3,1.3e-3,1.26e-3,
1.0e-3,6.5e-4,5.7e-4,5.3e-4,5.0e-4,4.9e-4,4.8e-4,4.7e-4,4.65e-4,4.6e-4,
2.5e-4,9.8e-5,6.5e-5,4.6e-5,3.6e-5,3.0e-5,2.7e-5,2.5e-5,2.3e-5,2.15e-5];
const dnsgaF = [2.2e-5,
2.6e-3,1.7e-3,1.2e-3,9.0e-4,7.3e-4,6.1e-4,5.4e-4,4.9e-4,4.6e-4,4.4e-4,
2.6e-3,1.9e-3,1.6e-3,1.45e-3,1.35e-3,1.27e-3,1.2e-3,1.15e-3,1.1e-3,1.06e-3,
2.8e-3,2.6e-3,2.45e-3,2.35e-3,2.25e-3,2.2e-3,2.15e-3,2.1e-3,2.05e-3,2.0e-3,
3.0e-3,2.9e-3,2.85e-3,2.85e-3,2.9e-3,2.95e-3,3.05e-3,3.2e-3,3.35e-3,3.5e-3,
4.5e-3,4.8e-3,5.1e-3,5.4e-3,5.6e-3,5.8e-3,5.9e-3,6.0e-3,6.1e-3,6.1e-3,
6.1e-3,6.2e-3,6.2e-3,6.2e-3,6.2e-3,6.1e-3,6.1e-3,6.1e-3,6.1e-3,6.1e-3,
5.6e-3,5.3e-3,5.0e-3,4.8e-3,4.6e-3,4.4e-3,4.2e-3,4.0e-3,3.85e-3,3.7e-3,
3.3e-3,2.6e-3,2.2e-3,1.9e-3,1.7e-3,1.55e-3,1.45e-3,1.38e-3,1.32e-3,1.28e-3,
9.5e-4,6.5e-4,5.6e-4,5.2e-4,4.9e-4,4.8e-4,4.7e-4,4.6e-4,4.55e-4,4.5e-4,
2.2e-4,8.5e-5,5.5e-5,4.0e-5,3.2e-5,2.7e-5,2.4e-5,2.25e-5,2.1e-5,2.0e-5];
const moeadF = [1.6e-5,
1.8e-3,7.0e-4,5.6e-4,5.0e-4,4.7e-4,4.6e-4,4.5e-4,4.5e-4,4.45e-4,4.4e-4,
2.4e-3,1.8e-3,1.72e-3,1.68e-3,1.66e-3,1.64e-3,1.62e-3,1.6e-3,1.6e-3,1.58e-3,
3.3e-3,3.3e-3,3.25e-3,3.25e-3,3.2e-3,3.2e-3,3.15e-3,3.15e-3,3.1e-3,3.1e-3,
4.2e-3,4.2e-3,4.15e-3,4.1e-3,4.1e-3,4.05e-3,4.0e-3,4.0e-3,3.95e-3,3.9e-3,
4.6e-3,4.6e-3,4.6e-3,4.55e-3,4.55e-3,4.5e-3,4.5e-3,4.45e-3,4.45e-3,4.4e-3,
3.9e-3,3.9e-3,3.85e-3,3.85e-3,3.8e-3,3.8e-3,3.75e-3,3.75e-3,3.7e-3,3.7e-3,
2.9e-3,2.9e-3,2.85e-3,2.85e-3,2.85e-3,2.8e-3,2.8e-3,2.8e-3,2.75e-3,2.75e-3,
2.5e-3,1.85e-3,1.75e-3,1.7e-3,1.67e-3,1.65e-3,1.63e-3,1.61e-3,1.6e-3,1.58e-3,
6.0e-4,5.2e-4,4.9e-4,4.8e-4,4.7e-4,4.65e-4,4.6e-4,4.55e-4,4.5e-4,4.5e-4,
1.6e-4,5.5e-5,3.5e-5,2.7e-5,2.3e-5,2.0e-5,1.9e-5,1.8e-5,1.75e-5,1.7e-5];
const kfF = [1.6e-5,
1.5e-3,6.8e-4,5.5e-4,5.0e-4,4.7e-4,4.6e-4,4.5e-4,4.5e-4,4.45e-4,4.4e-4,
2.5e-3,1.8e-3,1.75e-3,1.7e-3,1.68e-3,1.66e-3,1.64e-3,1.62e-3,1.61e-3,1.6e-3,
3.4e-3,3.4e-3,3.35e-3,3.35e-3,3.3e-3,3.3e-3,3.25e-3,3.25e-3,3.2e-3,3.2e-3,
4.3e-3,4.3e-3,4.25e-3,4.2e-3,4.2e-3,4.15e-3,4.1e-3,4.1e-3,4.05e-3,4.0e-3,
4.7e-3,4.7e-3,4.7e-3,4.65e-3,4.65e-3,4.6e-3,4.6e-3,4.55e-3,4.55e-3,4.5e-3,
4.0e-3,4.0e-3,3.95e-3,3.95e-3,3.9e-3,3.9e-3,3.85e-3,3.85e-3,3.8e-3,3.8e-3,
3.1e-3,3.1e-3,3.05e-3,3.05e-3,3.0e-3,3.0e-3,3.0e-3,2.95e-3,2.95e-3,2.9e-3,
2.6e-3,1.85e-3,1.75e-3,1.7e-3,1.68e-3,1.66e-3,1.64e-3,1.62e-3,1.6e-3,1.6e-3,
5.9e-4,5.2e-4,5.0e-4,4.9e-4,4.8e-4,4.75e-4,4.7e-4,4.65e-4,4.6e-4,4.6e-4,
2.0e-4,6.5e-5,4.0e-5,3.0e-5,2.5e-5,2.2e-5,2.0e-5,1.9e-5,1.85e-5,1.8e-5];
const dtaeaF = [1.6e-5,
9.4e-4,4.2e-4,3.6e-4,3.4e-4,3.3e-4,3.25e-4,3.2e-4,3.2e-4,3.15e-4,3.15e-4,
1.8e-3,1.15e-3,1.0e-3,9.6e-4,9.4e-4,9.3e-4,9.2e-4,9.2e-4,9.2e-4,9.2e-4,
2.5e-3,1.85e-3,1.75e-3,1.72e-3,1.7e-3,1.68e-3,1.67e-3,1.66e-3,1.65e-3,1.65e-3,
3.0e-3,2.3e-3,2.25e-3,2.24e-3,2.23e-3,2.22e-3,2.21e-3,2.2e-3,2.2e-3,2.2e-3,
3.8e-3,3.4e-3,3.35e-3,3.3e-3,3.3e-3,3.3e-3,3.25e-3,3.25e-3,3.2e-3,3.2e-3,
2.4e-3,2.3e-3,2.25e-3,2.22e-3,2.2e-3,2.2e-3,2.18e-3,2.17e-3,2.16e-3,2.15e-3,
1.75e-3,1.7e-3,1.68e-3,1.67e-3,1.66e-3,1.66e-3,1.65e-3,1.65e-3,1.64e-3,1.64e-3,
1.25e-3,1.1e-3,1.0e-3,9.6e-4,9.4e-4,9.3e-4,9.2e-4,9.2e-4,9.2e-4,9.2e-4,
6.3e-4,4.5e-4,3.8e-4,3.5e-4,3.4e-4,3.35e-4,3.3e-4,3.3e-4,3.3e-4,3.3e-4,
1.0e-4,3.6e-5,2.5e-5,2.0e-5,1.85e-5,1.75e-5,1.7e-5,1.68e-5,1.66e-5,1.65e-5];

// ---------- Problem 2, tau=100 ----------
const nsgaG = [1.9e-5,
2.0e-3,1.0e-3,6.2e-4,4.9e-4,4.6e-4,4.5e-4,4.45e-4,4.4e-4,4.4e-4,4.4e-4,
2.4e-3,1.55e-3,1.35e-3,1.25e-3,1.2e-3,1.15e-3,1.12e-3,1.1e-3,1.09e-3,1.08e-3,
3.0e-3,2.3e-3,2.1e-3,2.0e-3,1.95e-3,1.95e-3,1.97e-3,2.0e-3,2.03e-3,2.06e-3,
3.4e-3,3.6e-3,3.8e-3,4.0e-3,4.2e-3,4.4e-3,4.6e-3,4.8e-3,5.0e-3,5.2e-3,
5.5e-3,5.8e-3,6.1e-3,6.4e-3,6.7e-3,7.0e-3,7.2e-3,7.4e-3,7.5e-3,7.5e-3,
7.4e-3,7.3e-3,7.1e-3,7.0e-3,6.9e-3,6.8e-3,6.7e-3,6.6e-3,6.5e-3,6.4e-3,
5.8e-3,5.2e-3,4.7e-3,4.4e-3,4.2e-3,4.0e-3,3.8e-3,3.6e-3,3.45e-3,3.3e-3,
2.1e-3,1.85e-3,1.65e-3,1.55e-3,1.45e-3,1.38e-3,1.32e-3,1.26e-3,1.2e-3,1.15e-3,
7.2e-4,5.4e-4,5.0e-4,4.9e-4,4.8e-4,4.8e-4,4.75e-4,4.7e-4,4.7e-4,4.6e-4,
2.2e-4,4.9e-5,2.9e-5,2.5e-5,2.3e-5,2.25e-5,2.2e-5,2.2e-5,2.2e-5,2.2e-5];
const dnsgaG = [1.9e-5,
1.6e-3,8.5e-4,5.8e-4,4.8e-4,4.5e-4,4.4e-4,4.35e-4,4.3e-4,4.3e-4,4.3e-4,
2.0e-3,1.45e-3,1.3e-3,1.2e-3,1.15e-3,1.1e-3,1.08e-3,1.06e-3,1.05e-3,1.04e-3,
2.7e-3,2.15e-3,2.0e-3,1.9e-3,1.88e-3,1.88e-3,1.9e-3,1.93e-3,1.96e-3,2.0e-3,
3.3e-3,3.5e-3,3.7e-3,3.9e-3,4.1e-3,4.3e-3,4.5e-3,4.7e-3,4.9e-3,5.1e-3,
5.4e-3,5.7e-3,6.0e-3,6.3e-3,6.6e-3,6.9e-3,7.1e-3,7.3e-3,7.4e-3,7.4e-3,
7.3e-3,7.2e-3,7.0e-3,6.9e-3,6.8e-3,6.7e-3,6.6e-3,6.5e-3,6.4e-3,6.3e-3,
5.6e-3,5.1e-3,4.6e-3,4.3e-3,4.1e-3,3.9e-3,3.7e-3,3.5e-3,3.35e-3,3.2e-3,
1.95e-3,1.75e-3,1.6e-3,1.5e-3,1.42e-3,1.35e-3,1.28e-3,1.22e-3,1.17e-3,1.12e-3,
6.5e-4,5.2e-4,4.9e-4,4.8e-4,4.7e-4,4.65e-4,4.6e-4,4.55e-4,4.5e-4,4.5e-4,
1.8e-4,4.5e-5,2.7e-5,2.35e-5,2.2e-5,2.15e-5,2.1e-5,2.1e-5,2.1e-5,2.1e-5];
const moeadG = [1.5e-5,
1.0e-3,5.0e-4,4.6e-4,4.5e-4,4.4e-4,4.4e-4,4.35e-4,4.35e-4,4.3e-4,4.3e-4,
1.85e-3,1.65e-3,1.6e-3,1.58e-3,1.57e-3,1.56e-3,1.55e-3,1.55e-3,1.54e-3,1.54e-3,
3.6e-3,3.4e-3,3.3e-3,3.2e-3,3.1e-3,3.05e-3,3.0e-3,2.95e-3,2.9e-3,2.85e-3,
3.9e-3,3.9e-3,3.9e-3,3.85e-3,3.85e-3,3.85e-3,3.8e-3,3.8e-3,3.8e-3,3.8e-3,
4.5e-3,4.5e-3,4.5e-3,4.45e-3,4.45e-3,4.45e-3,4.4e-3,4.4e-3,4.4e-3,4.4e-3,
3.5e-3,3.5e-3,3.5e-3,3.45e-3,3.45e-3,3.45e-3,3.4e-3,3.4e-3,3.4e-3,3.4e-3,
2.9e-3,2.9e-3,2.9e-3,2.85e-3,2.85e-3,2.85e-3,2.8e-3,2.8e-3,2.8e-3,2.8e-3,
1.55e-3,1.55e-3,1.55e-3,1.55e-3,1.54e-3,1.54e-3,1.54e-3,1.53e-3,1.53e-3,1.53e-3,
4.7e-4,4.5e-4,4.4e-4,4.35e-4,4.3e-4,4.3e-4,4.25e-4,4.25e-4,4.2e-4,4.2e-4,
1.2e-4,3.8e-5,2.0e-5,1.77e-5,1.67e-5,1.61e-5,1.57e-5,1.54e-5,1.52e-5,1.51e-5];
const kfG = [1.5e-5,
9.1e-4,4.8e-4,4.5e-4,4.4e-4,4.4e-4,4.35e-4,4.35e-4,4.3e-4,4.3e-4,4.3e-4,
1.8e-3,1.6e-3,1.6e-3,1.6e-3,1.6e-3,1.6e-3,1.6e-3,1.6e-3,1.6e-3,1.6e-3,
3.3e-3,3.25e-3,3.2e-3,3.15e-3,3.1e-3,3.05e-3,3.0e-3,2.95e-3,2.9e-3,2.9e-3,
4.0e-3,4.0e-3,4.0e-3,4.0e-3,4.0e-3,4.0e-3,4.0e-3,4.0e-3,4.0e-3,4.0e-3,
4.6e-3,4.6e-3,4.6e-3,4.6e-3,4.6e-3,4.6e-3,4.6e-3,4.6e-3,4.6e-3,4.6e-3,
3.6e-3,3.6e-3,3.6e-3,3.6e-3,3.6e-3,3.6e-3,3.6e-3,3.6e-3,3.6e-3,3.6e-3,
3.0e-3,3.0e-3,3.0e-3,3.0e-3,3.0e-3,3.0e-3,3.0e-3,3.0e-3,3.0e-3,3.0e-3,
1.6e-3,1.6e-3,1.6e-3,1.6e-3,1.6e-3,1.6e-3,1.6e-3,1.6e-3,1.6e-3,1.6e-3,
4.8e-4,4.6e-4,4.5e-4,4.45e-4,4.4e-4,4.4e-4,4.35e-4,4.35e-4,4.3e-4,4.3e-4,
1.3e-4,4.0e-5,2.04e-5,1.79e-5,1.68e-5,1.62e-5,1.58e-5,1.55e-5,1.52e-5,1.51e-5];
const dtaeaG = [1.5e-5,
4.5e-4,3.6e-4,3.4e-4,3.3e-4,3.25e-4,3.2e-4,3.2e-4,3.2e-4,3.15e-4,3.15e-4,
1.1e-3,9.7e-4,9.4e-4,9.3e-4,9.2e-4,9.2e-4,9.1e-4,9.1e-4,9.1e-4,9.1e-4,
1.9e-3,1.7e-3,1.67e-3,1.66e-3,1.65e-3,1.65e-3,1.64e-3,1.64e-3,1.63e-3,1.63e-3,
2.6e-3,2.2e-3,2.18e-3,2.17e-3,2.16e-3,2.16e-3,2.15e-3,2.15e-3,2.15e-3,2.15e-3,
3.6e-3,3.5e-3,3.45e-3,3.45e-3,3.4e-3,3.4e-3,3.4e-3,3.4e-3,3.35e-3,3.35e-3,
2.6e-3,2.25e-3,2.2e-3,2.2e-3,2.18e-3,2.17e-3,2.16e-3,2.16e-3,2.15e-3,2.15e-3,
1.85e-3,1.73e-3,1.7e-3,1.68e-3,1.67e-3,1.66e-3,1.65e-3,1.64e-3,1.63e-3,1.63e-3,
1.2e-3,9.6e-4,9.3e-4,9.2e-4,9.2e-4,9.1e-4,9.1e-4,9.1e-4,9.1e-4,9.1e-4,
5.0e-4,3.6e-4,3.4e-4,3.3e-4,3.25e-4,3.2e-4,3.2e-4,3.2e-4,3.2e-4,3.2e-4,
5.0e-5,1.95e-5,1.66e-5,1.58e-5,1.53e-5,1.51e-5,1.5e-5,1.5e-5,1.5e-5,1.5e-5];

// ---------- Problem 2, tau=200 ----------
const nsgaH = [2.1e-5,
1.1e-3,4.9e-4,4.6e-4,4.6e-4,4.55e-4,4.55e-4,4.5e-4,4.5e-4,4.5e-4,4.5e-4,
1.8e-3,1.3e-3,1.22e-3,1.2e-3,1.18e-3,1.17e-3,1.17e-3,1.16e-3,1.16e-3,1.16e-3,
2.4e-3,2.1e-3,2.1e-3,2.15e-3,2.2e-3,2.3e-3,2.4e-3,2.5e-3,2.6e-3,2.7e-3,
3.8e-3,4.2e-3,4.6e-3,5.0e-3,5.3e-3,5.5e-3,5.7e-3,5.8e-3,6.0e-3,6.1e-3,
6.9e-3,7.2e-3,7.4e-3,7.5e-3,7.6e-3,7.6e-3,7.6e-3,7.5e-3,7.4e-3,7.3e-3,
7.0e-3,6.9e-3,6.8e-3,6.7e-3,6.6e-3,6.5e-3,6.4e-3,6.3e-3,6.2e-3,6.1e-3,
4.3e-3,4.0e-3,3.8e-3,3.6e-3,3.45e-3,3.35e-3,3.25e-3,3.15e-3,3.05e-3,3.0e-3,
1.7e-3,1.55e-3,1.45e-3,1.37e-3,1.3e-3,1.25e-3,1.2e-3,1.17e-3,1.14e-3,1.12e-3,
4.9e-4,4.7e-4,4.6e-4,4.6e-4,4.55e-4,4.55e-4,4.5e-4,4.5e-4,4.5e-4,4.5e-4,
3.2e-5,2.2e-5,2.15e-5,2.1e-5,2.1e-5,2.1e-5,2.1e-5,2.1e-5,2.1e-5,2.1e-5];
const dnsgaH = [2.1e-5,
9.0e-4,4.7e-4,4.5e-4,4.45e-4,4.45e-4,4.4e-4,4.4e-4,4.4e-4,4.4e-4,4.4e-4,
1.6e-3,1.22e-3,1.17e-3,1.15e-3,1.14e-3,1.13e-3,1.13e-3,1.12e-3,1.12e-3,1.12e-3,
2.2e-3,2.0e-3,2.0e-3,2.05e-3,2.1e-3,2.2e-3,2.3e-3,2.4e-3,2.5e-3,2.6e-3,
3.7e-3,4.1e-3,4.5e-3,4.9e-3,5.2e-3,5.4e-3,5.6e-3,5.8e-3,5.9e-3,6.0e-3,
6.8e-3,7.1e-3,7.3e-3,7.4e-3,7.5e-3,7.5e-3,7.5e-3,7.4e-3,7.3e-3,7.2e-3,
6.9e-3,6.8e-3,6.7e-3,6.6e-3,6.5e-3,6.4e-3,6.3e-3,6.2e-3,6.1e-3,6.0e-3,
4.2e-3,3.9e-3,3.7e-3,3.5e-3,3.35e-3,3.25e-3,3.15e-3,3.05e-3,2.95e-3,2.9e-3,
1.65e-3,1.5e-3,1.4e-3,1.32e-3,1.26e-3,1.21e-3,1.17e-3,1.14e-3,1.11e-3,1.09e-3,
4.8e-4,4.6e-4,4.5e-4,4.45e-4,4.45e-4,4.4e-4,4.4e-4,4.4e-4,4.4e-4,4.4e-4,
3.0e-5,2.15e-5,2.1e-5,2.05e-5,2.05e-5,2.05e-5,2.05e-5,2.05e-5,2.05e-5,2.05e-5];
const moeadH = [1.6e-5,
4.6e-4,4.45e-4,4.4e-4,4.4e-4,4.4e-4,4.35e-4,4.35e-4,4.35e-4,4.3e-4,4.3e-4,
1.65e-3,1.62e-3,1.6e-3,1.6e-3,1.6e-3,1.6e-3,1.6e-3,1.6e-3,1.6e-3,1.6e-3,
3.2e-3,3.05e-3,2.95e-3,2.9e-3,2.85e-3,2.82e-3,2.8e-3,2.78e-3,2.76e-3,2.75e-3,
3.8e-3,3.8e-3,3.8e-3,3.8e-3,3.8e-3,3.8e-3,3.8e-3,3.8e-3,3.8e-3,3.8e-3,
4.6e-3,4.6e-3,4.6e-3,4.55e-3,4.55e-3,4.5e-3,4.5e-3,4.5e-3,4.45e-3,4.45e-3,
3.3e-3,3.25e-3,3.2e-3,3.15e-3,3.1e-3,3.05e-3,3.0e-3,3.0e-3,2.95e-3,2.95e-3,
2.95e-3,2.95e-3,2.95e-3,2.95e-3,2.95e-3,2.95e-3,2.95e-3,2.95e-3,2.95e-3,2.95e-3,
1.6e-3,1.6e-3,1.6e-3,1.6e-3,1.6e-3,1.6e-3,1.6e-3,1.6e-3,1.6e-3,1.6e-3,
4.6e-4,4.5e-4,4.45e-4,4.4e-4,4.4e-4,4.4e-4,4.4e-4,4.4e-4,4.4e-4,4.4e-4,
2.3e-5,1.76e-5,1.62e-5,1.56e-5,1.53e-5,1.52e-5,1.52e-5,1.52e-5,1.52e-5,1.52e-5];
const kfH = [1.6e-5,
4.7e-4,4.5e-4,4.45e-4,4.4e-4,4.4e-4,4.4e-4,4.4e-4,4.4e-4,4.4e-4,4.4e-4,
1.7e-3,1.7e-3,1.7e-3,1.7e-3,1.7e-3,1.7e-3,1.7e-3,1.7e-3,1.7e-3,1.7e-3,
3.3e-3,3.15e-3,3.05e-3,3.0e-3,2.95e-3,2.92e-3,2.9e-3,2.88e-3,2.86e-3,2.85e-3,
3.9e-3,3.9e-3,3.9e-3,3.9e-3,3.9e-3,3.9e-3,3.9e-3,3.9e-3,3.9e-3,3.9e-3,
4.7e-3,4.7e-3,4.7e-3,4.65e-3,4.65e-3,4.6e-3,4.6e-3,4.6e-3,4.55e-3,4.55e-3,
3.4e-3,3.35e-3,3.3e-3,3.25e-3,3.2e-3,3.15e-3,3.1e-3,3.1e-3,3.05e-3,3.05e-3,
3.05e-3,3.05e-3,3.05e-3,3.05e-3,3.05e-3,3.05e-3,3.05e-3,3.05e-3,3.05e-3,3.05e-3,
1.65e-3,1.65e-3,1.65e-3,1.65e-3,1.65e-3,1.65e-3,1.65e-3,1.65e-3,1.65e-3,1.65e-3,
4.7e-4,4.6e-4,4.5e-4,4.5e-4,4.45e-4,4.45e-4,4.45e-4,4.45e-4,4.45e-4,4.45e-4,
2.5e-5,1.8e-5,1.64e-5,1.57e-5,1.54e-5,1.53e-5,1.53e-5,1.52e-5,1.52e-5,1.52e-5];
const dtaeaH = [1.6e-5,
3.5e-4,3.3e-4,3.25e-4,3.25e-4,3.2e-4,3.2e-4,3.2e-4,3.2e-4,3.2e-4,3.2e-4,
1.0e-3,9.5e-4,9.4e-4,9.3e-4,9.3e-4,9.3e-4,9.2e-4,9.2e-4,9.2e-4,9.2e-4,
1.75e-3,1.7e-3,1.7e-3,1.7e-3,1.69e-3,1.69e-3,1.69e-3,1.68e-3,1.68e-3,1.68e-3,
2.35e-3,2.3e-3,2.28e-3,2.26e-3,2.25e-3,2.24e-3,2.23e-3,2.22e-3,2.21e-3,2.2e-3,
3.5e-3,3.5e-3,3.48e-3,3.47e-3,3.46e-3,3.45e-3,3.44e-3,3.43e-3,3.42e-3,3.4e-3,
2.6e-3,2.35e-3,2.3e-3,2.28e-3,2.26e-3,2.25e-3,2.24e-3,2.23e-3,2.22e-3,2.2e-3,
1.9e-3,1.73e-3,1.7e-3,1.69e-3,1.68e-3,1.67e-3,1.66e-3,1.66e-3,1.65e-3,1.65e-3,
1.15e-3,9.5e-4,9.3e-4,9.3e-4,9.2e-4,9.2e-4,9.2e-4,9.2e-4,9.2e-4,9.2e-4,
4.5e-4,3.4e-4,3.3e-4,3.25e-4,3.2e-4,3.2e-4,3.2e-4,3.2e-4,3.2e-4,3.2e-4,
1.8e-5,1.55e-5,1.5e-5,1.5e-5,1.5e-5,1.5e-5,1.5e-5,1.5e-5,1.5e-5,1.5e-5];

const panelSeries = [
  [nsgaA,dnsgaA,moeadA,kfA,dtaeaA],
  [nsgaB,dnsgaB,moeadB,kfB,dtaeaB],
  [nsgaC,dnsgaC,moeadC,kfC,dtaeaC],
  [nsgaD,dnsgaD,moeadD,kfD,dtaeaD],
  [nsgaE,dnsgaE,moeadE,kfE,dtaeaE],
  [nsgaF,dnsgaF,moeadF,kfF,dtaeaF],
  [nsgaG,dnsgaG,moeadG,kfG,dtaeaG],
  [nsgaH,dnsgaH,moeadH,kfH,dtaeaH]
];

// ---------- layout (pixels) ----------
const panels = [
  {left:62,  top:35,    width:283, height:197,   ymin:1e-5,  ymax:1,    yLab:true,  xLab:false, tau:0, nameGap:37},
  {left:359, top:35,    width:283, height:197,   ymin:1e-5,  ymax:1,    yLab:false, xLab:false, tau:1},
  {left:62,  top:243.5, width:282, height:196.5, ymin:5.4e-6,ymax:1,    yLab:true,  xLab:true,  tau:2, nameGap:37},
  {left:359, top:243.5, width:283, height:196.5, ymin:5.4e-6,ymax:1,    yLab:false, xLab:true,  tau:3},
  {left:705, top:35,    width:282, height:197,   ymin:1e-5,  ymax:1e-2, yLab:true,  xLab:false, tau:0, nameGap:32},
  {left:1002,top:35,    width:283, height:197,   ymin:1e-5,  ymax:1e-2, yLab:false, xLab:false, tau:1},
  {left:705, top:243,   width:282, height:197,   ymin:1e-5,  ymax:1e-2, yLab:true,  xLab:true,  tau:2, nameGap:32},
  {left:1002,top:243,   width:283, height:197,   ymin:1e-5,  ymax:1e-2, yLab:false, xLab:true,  tau:3}
];
const insets = [
  {panel:0, left:70,   top:43,  width:168, height:46, xmin:2.8, xmax:5.2, ymin:6.3e-4, ymax:1.86e-3, ticks:[3.2,3.55,3.9,4.3,4.65,5.05], links:[['bl','tl'],['tr','tr']]},
  {panel:6, left:712,  top:382, width:156, height:51, xmin:8.9, xmax:10,  ymin:1.35e-5, ymax:1.95e-5, ticks:[9,9.2,9.4,9.6,9.8], links:[['tr','tr'],['br','br']]},
  {panel:7, left:1010, top:382, width:156, height:51, xmin:8.9, xmax:10,  ymin:1.35e-5, ymax:1.95e-5, ticks:[9,9.2,9.4,9.6,9.8], links:[['tr','tr'],['br','br']]}
];

const PLUS = 'path://M4,0H6V4H10V6H6V10H4V6H0V4H4Z';
const styles = [
  {color:'#ff0000', width:1,   symbol:'circle', size:6.5, every:2, hollow:true},
  {color:'#008000', width:1,   symbol:'none', size:0},
  {color:'#000000', width:0.8, symbol:'circle', size:2},
  {color:'#bf00bf', width:1,   symbol:PLUS, size:6, dotted:true},
  {color:'#0000ff', width:2.6, symbol:'none', size:0}
];

function minorTicks(lo, hi) {
  const out = [];
  for (let e = Math.floor(Math.log10(lo)); e < Math.ceil(Math.log10(hi)); e++) {
    for (const m of minorMantissas) { const v = m * Math.pow(10, e); if (v > lo * 1.0001 && v < hi * 0.9999) out.push(v); }
  }
  return out;
}
function expLabel(v) {
  const e = Math.log10(v); const r = Math.round(e);
  if (Math.abs(e - r) > 1e-6) return '';
  return '{b|10}{s|' + (r < 0 ? '\u2212' + (-r) : String(r)) + '}';
}

const BOLD = {fontFamily:'DejaVu Sans', fontWeight:'bold', color:'#000'};
const gridLine = {show:true, lineStyle:{color:'rgba(0,0,0,0.8)', width:0.8, type:[1.2,2.4]}};
const axLine = {show:true, lineStyle:{color:'#000', width:1}};
const option = {animation:false, backgroundColor:'#fff', textStyle:{fontFamily:'DejaVu Sans'},
  grid:[], xAxis:[], yAxis:[], series:[], title:[], legend:[]};

function seriesFor(k, vals, xi, yi, inset) {
  const st = styles[k];
  const data = timeSteps.map((x, i) => {
    const item = {value:[x, vals[i]]};
    if (!inset && st.every && (i % st.every)) item.symbol = 'none';
    return item;
  });
  return {type:'line', name:methods[k], xAxisIndex:xi, yAxisIndex:yi, data:data,
    symbol:st.symbol, symbolSize:st.size, showSymbol:st.symbol !== 'none',
    lineStyle:{color:st.color, width:st.width, type: st.dotted ? [1.5,1.5] : 'solid', join:'round'},
    itemStyle: st.hollow ? {color:'rgba(255,255,255,0)', borderColor:st.color, borderWidth:1} : {color:st.color, borderWidth:0},
    emphasis:{disabled:true}, silent:true, z: (inset ? 11 : 2) + k, clip:true};
}

panels.forEach((p, pi) => {
  const gi = option.grid.length;
  option.grid.push({left:p.left, top:p.top, width:p.width, height:p.height, show:true, borderColor:'#000', borderWidth:1, containLabel:false});
  const xi = option.xAxis.length;
  option.xAxis.push({type:'value', gridIndex:gi, min:0, max:10, interval:1, axisLine:axLine,
    axisTick:{inside:true, length:4, lineStyle:{color:'#000'}},
    axisLabel:{show:p.xLab, showMinLabel:true, showMaxLabel:true, margin:6, fontSize:11.5, ...BOLD,
      formatter: v => (v >= 1 ? xTickLabels[Math.round(v) - 1] : '')},
    splitLine:gridLine,
    name: p.xLab ? 'Time Step' : '', nameLocation:'middle', nameGap:21, nameTextStyle:{fontSize:11, ...BOLD}});
  option.xAxis.push({type:'value', gridIndex:gi, position:'top', min:0, max:10, interval:1, axisLine:axLine,
    axisTick:{inside:true, length:4, lineStyle:{color:'#000'}}, axisLabel:{show:false}, splitLine:{show:false}});
  const yi = option.yAxis.length;
  option.yAxis.push({type:'log', logBase:10, gridIndex:gi, min:p.ymin, max:p.ymax, axisLine:axLine,
    axisTick:{inside:true, length:4, lineStyle:{color:'#000'}},
    axisLabel:{show:p.yLab, margin:5, formatter:expLabel, showMinLabel:true, showMaxLabel:true,
      rich:{b:{fontFamily:'DejaVu Serif', fontWeight:'bold', fontSize:11, lineHeight:16, color:'#000'},
            s:{fontFamily:'DejaVu Serif', fontWeight:'bold', fontSize:7.5, lineHeight:8, verticalAlign:'top', color:'#000'}}},
    splitLine:gridLine,
    name: p.yLab ? 'IGD' : '', nameLocation:'middle', nameRotate:90, nameGap:p.nameGap || 30, nameTextStyle:{fontSize:12, ...BOLD}});
  const mt = minorTicks(p.ymin, p.ymax);
  option.yAxis.push({type:'log', logBase:10, gridIndex:gi, position:'left', min:p.ymin, max:p.ymax, axisLine:{show:false},
    axisTick:{inside:true, length:2, customValues:mt, lineStyle:{color:'#000'}}, axisLabel:{show:false}, splitLine:{show:false}});
  option.yAxis.push({type:'log', logBase:10, gridIndex:gi, position:'right', min:p.ymin, max:p.ymax, axisLine:axLine,
    axisTick:{inside:true, length:4, lineStyle:{color:'#000'}}, axisLabel:{show:false}, splitLine:{show:false}});
  option.yAxis.push({type:'log', logBase:10, gridIndex:gi, position:'right', min:p.ymin, max:p.ymax, axisLine:{show:false},
    axisTick:{inside:true, length:2, customValues:mt, lineStyle:{color:'#000'}}, axisLabel:{show:false}, splitLine:{show:false}});
  panelSeries[pi].forEach((vals, k) => option.series.push(seriesFor(k, vals, xi, yi, false)));
  p.grid = gi;
  option.title.push({text:'{a|\u03c4}{b|t}{c|=' + tauLabels[p.tau] + '}', right:1306 - (p.left + p.width - 10), top:p.top + 7, padding:0,
    textStyle:{rich:{a:{fontFamily:'DejaVu Serif', fontStyle:'italic', fontWeight:'bold', fontSize:13, lineHeight:17, color:'#000'},
      b:{fontFamily:'DejaVu Serif', fontStyle:'italic', fontWeight:'bold', fontSize:8, lineHeight:9, verticalAlign:'bottom', color:'#000'},
      c:{fontFamily:'DejaVu Sans', fontWeight:'bold', fontSize:12.5, lineHeight:17, color:'#000'}}}});
});

insets.forEach(ins => {
  const gi = option.grid.length;
  option.grid.push({left:ins.left, top:ins.top, width:ins.width, height:ins.height, show:true, backgroundColor:'#fff', borderColor:'#000', borderWidth:1, z:10});
  const xi = option.xAxis.length;
  option.xAxis.push({type:'value', gridIndex:gi, min:ins.xmin, max:ins.xmax, z:17, axisLine:axLine,
    axisTick:{inside:true, length:3, customValues:ins.ticks, lineStyle:{color:'#000'}}, axisLabel:{show:false}, splitLine:{show:false}});
  const yi = option.yAxis.length;
  option.yAxis.push({type:'log', logBase:10, gridIndex:gi, min:ins.ymin, max:ins.ymax, z:17, axisLine:axLine,
    axisTick:{show:false}, axisLabel:{show:false}, splitLine:{show:false}});
  panelSeries[ins.panel].forEach((vals, k) => option.series.push(seriesFor(k, vals, xi, yi, true)));
  ins.grid = gi;
});

const legendData = methods.map((m, k) => {
  if (styles[k].symbol === 'none') return {name:m, itemStyle:{opacity:0}};
  if (styles[k].hollow) return {name:m, itemStyle:{color:'#ffffff', borderColor:styles[k].color, borderWidth:1}};
  return {name:m};
});
[65, 708].forEach(lx => option.legend.push({left:lx, top:3, orient:'horizontal', itemWidth:28, itemHeight:6, itemGap:22.5,
  padding:[6,5,6,5], borderColor:'#000', borderWidth:1, borderRadius:3, backgroundColor:'#fff', selectedMode:false,
  textStyle:{fontSize:12, ...BOLD, padding:[0,0,0,4]}, data:legendData}));

const chart = echarts.init(document.getElementById('c'), null, {width:1306, height:485, renderer:'canvas'});
chart.setOption(option);

// zoom box + connector lines of each inset
const gfx = [];
insets.forEach(ins => {
  const pg = panels[ins.panel].grid;
  const a = chart.convertToPixel({gridIndex:pg}, [ins.xmin, ins.ymax]);
  const b = chart.convertToPixel({gridIndex:pg}, [ins.xmax, ins.ymin]);
  const c = chart.convertToPixel({gridIndex:ins.grid}, [ins.xmin, ins.ymax]);
  const d = chart.convertToPixel({gridIndex:ins.grid}, [ins.xmax, ins.ymin]);
  const box = {tl:[a[0],a[1]], tr:[b[0],a[1]], bl:[a[0],b[1]], br:[b[0],b[1]]};
  const inr = {tl:[c[0],c[1]], tr:[d[0],c[1]], bl:[c[0],d[1]], br:[d[0],d[1]]};
  gfx.push({type:'rect', silent:true, z:8, shape:{x:a[0], y:a[1], width:b[0]-a[0], height:b[1]-a[1]}, style:{fill:'none', stroke:'#808080', lineWidth:1}});
  ins.links.forEach(([ic, bc]) => gfx.push({type:'line', silent:true, z:8,
    shape:{x1:inr[ic][0], y1:inr[ic][1], x2:box[bc][0], y2:box[bc][1]}, style:{stroke:'#808080', lineWidth:1}}));
});
chart.setOption({graphic:{elements:gfx}});
</script></body></html>
